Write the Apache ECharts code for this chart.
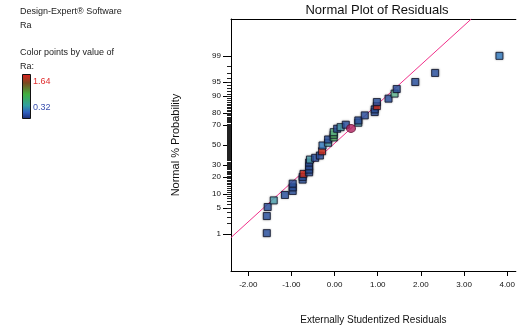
<!DOCTYPE html>
<html>
<head>
<meta charset="utf-8">
<script src="https://cdn.jsdelivr.net/npm/echarts@6/dist/echarts.min.js"></script>
<style>
  html, body { margin: 0; padding: 0; background: #fff; }
  #chart { width: 518px; height: 330px; }
</style>
</head>
<body>
<div id="chart"></div>
<script>
// Externally studentized residuals and their normal % probability
const residuals = [-1.57, -1.57, -1.55, -1.41, -1.15, -0.97, -0.97, -0.97, -0.74, -0.74,
                   -0.72, -0.59, -0.59, -0.59, -0.59, -0.57, -0.45, -0.34, -0.29, -0.28,
                   -0.15, -0.15, -0.02, -0.02, -0.02, 0.06, 0.14, 0.26, 0.55, 0.55,
                   0.70, 0.93, 0.93, 0.98, 0.98, 1.25, 1.39, 1.44, 1.87, 2.33, 3.82];
const probabilities = [1.05, 3.14, 5.22, 7.34, 9.53, 11.43, 13.37, 15.58, 18.22, 20.16,
                       22.45, 23.73, 25.98, 28.88, 32.28, 35.16, 36.84, 39.13, 43.53, 49.48,
                       52.31, 55.76, 57.81, 60.56, 63.16, 66.49, 68.01, 70.23, 72.0, 74.0,
                       78.1, 80.6, 82.46, 84.6, 86.97, 88.76, 91.09, 92.87, 95.05, 97.04, 99.02];
// Ra response of each run (used for point colour)
const raValues = [0.40, 0.40, 0.40, 0.72, 0.40, 0.40, 0.40, 0.40, 0.40, 0.40,
                  1.60, 0.40, 0.40, 0.40, 0.40, 0.72, 0.40, 0.40, 1.60, 0.55,
                  0.72, 0.40, 1.00, 1.00, 0.90, 0.40, 0.72, 0.40, 0.72, 0.40,
                  0.40, 0.40, 0.40, 1.60, 0.40, 0.40, 0.85, 0.40, 0.40, 0.40, 0.55];
// Run drawn as a circle
const circledResidual = [0.38];
const circledProbability = [66.8];

// Reference line (in normal-score units)
const lineSlope = 1.028;
const lineIntercept = 0.044;

// Axes
const xTicks = [-2, -1, 0, 1, 2, 3, 4];
const yMajorTicks = [1, 5, 10, 20, 30, 50, 70, 80, 90, 95, 99];
const yMinorTicks = [];
for (let p = 2; p <= 98; p++) yMinorTicks.push(p);
const raMin = 0.32, raMax = 1.64;

const xMin = -2.4, xMax = 4.2;
const zMin = -3.3, zMax = 3.3;

// Inverse standard normal CDF (Acklam)
function probit(p) {
  const a = [-3.969683028665376e+01, 2.209460984245205e+02, -2.759285104469687e+02, 1.383577518672690e+02, -3.066479806614716e+01, 2.506628277459239e+00];
  const b = [-5.447609879822406e+01, 1.615858368580409e+02, -1.556989798598866e+02, 6.680131188771972e+01, -1.328068155288572e+01];
  const c = [-7.784894002430293e-03, -3.223964580411365e-01, -2.400758277161838e+00, -2.549732539343734e+00, 4.374664141464968e+00, 2.938163982698783e+00];
  const d = [7.784695709041462e-03, 3.224671290700398e-01, 2.445134137142996e+00, 3.754408661907416e+00];
  const pl = 0.02425, ph = 1 - pl;
  let q, r;
  if (p < pl) {
    q = Math.sqrt(-2 * Math.log(p));
    return (((((c[0]*q+c[1])*q+c[2])*q+c[3])*q+c[4])*q+c[5]) / ((((d[0]*q+d[1])*q+d[2])*q+d[3])*q+1);
  }
  if (p > ph) {
    q = Math.sqrt(-2 * Math.log(1 - p));
    return -(((((c[0]*q+c[1])*q+c[2])*q+c[3])*q+c[4])*q+c[5]) / ((((d[0]*q+d[1])*q+d[2])*q+d[3])*q+1);
  }
  q = p - 0.5; r = q * q;
  return (((((a[0]*r+a[1])*r+a[2])*r+a[3])*r+a[4])*r+a[5])*q / (((((b[0]*r+b[1])*r+b[2])*r+b[3])*r+b[4])*r+1);
}

const pointData = residuals.map((x, i) => [x, probit(probabilities[i] / 100), raValues[i]]);
const circleData = circledResidual.map((x, i) => [x, probit(circledProbability[i] / 100)]);

// line clipped to the plot box
const lineX0 = Math.max(xMin, (zMin - lineIntercept) / lineSlope);
const lineX1 = Math.min(xMax, (zMax - lineIntercept) / lineSlope);
const lineData = [[lineX0, lineSlope * lineX0 + lineIntercept], [lineX1, lineSlope * lineX1 + lineIntercept]];

const majorZ = yMajorTicks.map(p => probit(p / 100));
const minorZ = yMinorTicks.map(p => probit(p / 100));

const FONT = '"Liberation Sans", Arial, sans-serif';
const NARROW = '"Liberation Sans Narrow", "Liberation Sans", Arial, sans-serif';

const chart = echarts.init(document.getElementById('chart'), null, { renderer: 'canvas' });

chart.setOption({
  animation: false,
  backgroundColor: '#ffffff',
  grid: { left: 231, top: 19, right: 0, bottom: 59, containLabel: false },
  xAxis: [{
    type: 'value', min: xMin, max: xMax,
    position: 'bottom',
    name: 'Externally Studentized Residuals',
    nameLocation: 'middle', nameGap: 44,
    nameTextStyle: { fontFamily: FONT, fontSize: 10, color: '#111' },
    axisLine: { show: true, onZero: false, lineStyle: { color: '#000', width: 1 } },
    axisTick: { show: true, customValues: xTicks, length: 5, inside: false, lineStyle: { color: '#000' } },
    axisLabel: { customValues: xTicks, margin: 10, fontFamily: NARROW, fontSize: 8, color: '#111',
                 formatter: v => v.toFixed(2) },
    splitLine: { show: false }
  }, {
    type: 'value', min: xMin, max: xMax, position: 'top',
    axisLine: { show: true, onZero: false, lineStyle: { color: '#000', width: 1 } },
    axisTick: { show: false }, axisLabel: { show: false }, splitLine: { show: false }
  }],
  yAxis: [{
    type: 'value', min: zMin, max: zMax, position: 'left',
    name: 'Normal % Probability',
    nameLocation: 'middle', nameGap: 50,
    nameTextStyle: { fontFamily: FONT, fontSize: 11, color: '#111' },
    axisLine: { show: true, onZero: false, lineStyle: { color: '#000', width: 1 } },
    axisTick: { show: true, customValues: majorZ, length: 8, lineStyle: { color: '#000' } },
    axisLabel: {
      customValues: majorZ, margin: 10, fontFamily: NARROW, fontSize: 8, color: '#111',
      formatter: v => {
        let best = 0;
        majorZ.forEach((z, i) => { if (Math.abs(z - v) < Math.abs(majorZ[best] - v)) best = i; });
        return String(yMajorTicks[best]);
      }
    },
    splitLine: { show: false }
  }, {
    type: 'value', min: zMin, max: zMax, position: 'left', offset: 0,
    axisLine: { show: false, onZero: false },
    axisTick: { show: true, customValues: minorZ, length: 4, lineStyle: { color: '#222', width: 1 } },
    axisLabel: { show: false }, splitLine: { show: false }
  }],
  visualMap: {
    show: false, type: 'continuous', seriesIndex: 1, dimension: 2,
    min: raMin, max: raMax,
    inRange: { color: ['#2a3f96', '#3b8ed4', '#6cc8a0', '#52b848', '#9a5a28', '#e82a20'] }
  },
  series: [{
    type: 'line', xAxisIndex: 0, yAxisIndex: 0,
    data: lineData, symbol: 'none', silent: true,
    lineStyle: { color: '#f0308a', width: 1 }, z: 1
  }, {
    type: 'scatter', xAxisIndex: 0, yAxisIndex: 0,
    data: pointData, symbol: 'rect', symbolSize: 7,
    itemStyle: { borderColor: '#10142a', borderWidth: 1, shadowBlur: 2, shadowColor: 'rgba(0,0,0,0.35)' },
    z: 3
  }, {
    type: 'scatter', xAxisIndex: 0, yAxisIndex: 0,
    data: circleData, symbol: 'circle', symbolSize: [9, 8],
    itemStyle: { color: '#b0205e', borderColor: '#5a1030', borderWidth: 1 },
    z: 4
  }],
  graphic: [
    { type: 'text', x: 377, y: 10, style: { text: 'Normal Plot of Residuals', font: '13px ' + FONT, fill: '#111', align: 'center', verticalAlign: 'middle' } },
    { type: 'text', x: 20, y: 12, style: { text: 'Design-Expert\u00ae Software', font: '9px ' + FONT, fill: '#222', verticalAlign: 'middle' } },
    { type: 'text', x: 20, y: 26, style: { text: 'Ra', font: '9px ' + FONT, fill: '#222', verticalAlign: 'middle' } },
    { type: 'text', x: 20, y: 53, style: { text: 'Color points by value of', font: '9px ' + FONT, fill: '#222', verticalAlign: 'middle' } },
    { type: 'text', x: 20, y: 67, style: { text: 'Ra:', font: '9px ' + FONT, fill: '#222', verticalAlign: 'middle' } },
    { type: 'rect', shape: { x: 22.5, y: 74.5, width: 8, height: 44 },
      style: { stroke: '#111', lineWidth: 1,
        fill: new echarts.graphic.LinearGradient(0, 0, 0, 1, [
          { offset: 0, color: '#e02020' },
          { offset: 0.2, color: '#7a4a20' },
          { offset: 0.45, color: '#40b040' },
          { offset: 0.7, color: '#30a0a0' },
          { offset: 0.85, color: '#3060c0' },
          { offset: 1, color: '#1a2a70' }
        ]) } },
    { type: 'text', x: 33, y: 82, style: { text: String(raMax.toFixed(2)), font: '9px ' + FONT, fill: '#e03030', verticalAlign: 'middle' } },
    { type: 'text', x: 33, y: 108, style: { text: String(raMin.toFixed(2)), font: '9px ' + FONT, fill: '#3a50b0', verticalAlign: 'middle' } }
  ]
});
</script>
</body>
</html>
